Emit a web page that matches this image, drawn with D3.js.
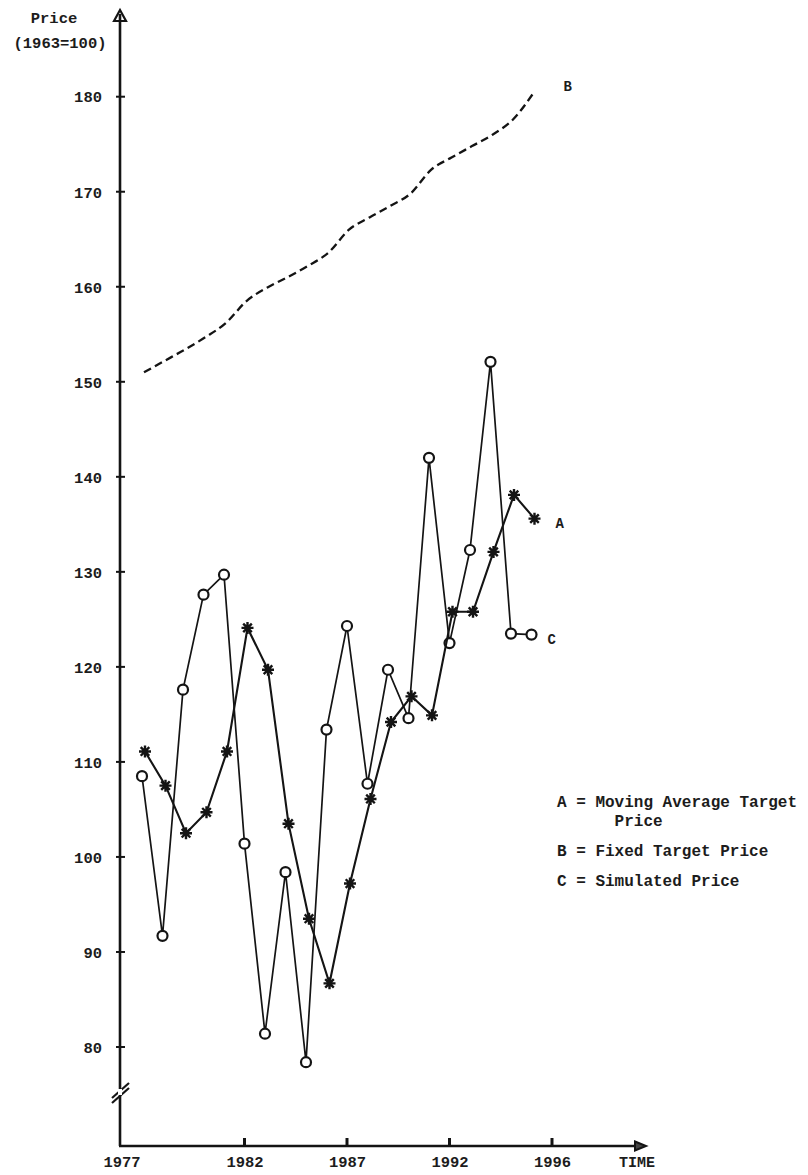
<!DOCTYPE html>
<html><head><meta charset="utf-8">
<script src="https://cdn.jsdelivr.net/npm/d3@7"></script>
<style>
body{margin:0;background:#fff}
svg text{font-family:"Liberation Mono","DejaVu Sans Mono",monospace;font-weight:bold;fill:#1c1c1c;white-space:pre}
</style>
</head><body>
<svg id="chart" width="808" height="1175"></svg>
<script>
// ---- data ----
const years = [1977,1978,1979,1980,1981,1982,1983,1984,1985,1986,1987,1988,1989,1990,1991,1992,1993,1994,1995,1996];
const simulatedC = [108.5,91.7,117.6,127.6,129.7,101.4,81.4,98.4,78.4,113.4,124.3,107.7,119.7,114.6,142.0,122.5,132.3,152.1,123.5,123.4];
const movingAvgA = [111.1,107.5,102.5,104.7,111.1,124.1,119.7,103.5,93.5,86.7,97.2,106.1,114.2,116.9,114.9,125.8,125.8,132.1,138.1,135.6];
const fixedB = [151.0,152.2,153.4,154.7,156.2,158.5,159.9,161.0,162.2,163.6,166.0,167.3,168.5,169.8,172.3,173.6,174.8,176.0,177.6,180.4];
const yTicks = [80,90,100,110,120,130,140,150,160,170,180];
const xTickYears = [1976,1982,1987,1992,1997];
const xTickLabels = ["1977","1982","1987","1992","1996"];
const legendLines = ["A = Moving Average Target","      Price","B = Fixed Target Price","C = Simulated Price"];
const yTitle = ["Price","(1963=100)"];
const xTitle = "TIME";

// ---- layout ----
const axisX = 120, axisBottomY = 1146, axisTopY = 10, xAxisEnd = 646;
const ink = "#141414";

const svg = d3.select("#chart");
const x = d3.scaleLinear().domain([1976,1997]).range([121.5,552]);
const y = d3.scaleLinear().domain([80,180]).range([1047,96.7]);

// axes lines
svg.append("line").attr("x1",axisX).attr("x2",axisX).attr("y1",axisTopY+4).attr("y2",axisBottomY)
  .attr("stroke",ink).attr("stroke-width",2.6);
svg.append("line").attr("x1",axisX-1).attr("x2",xAxisEnd-8).attr("y1",axisBottomY).attr("y2",axisBottomY)
  .attr("stroke",ink).attr("stroke-width",2.6);
// arrow heads
svg.append("path").attr("d",`M${axisX-6},${axisTopY+11}L${axisX},${axisTopY}L${axisX+6},${axisTopY+11}Z`)
  .attr("fill","none").attr("stroke",ink).attr("stroke-width",2.2);
svg.append("path").attr("d",`M${xAxisEnd-11},${axisBottomY-4.5}L${xAxisEnd},${axisBottomY}L${xAxisEnd-11},${axisBottomY+4.5}Z`)
  .attr("fill","#444").attr("stroke",ink).attr("stroke-width",2);
// axis break
[0,5].forEach(o=>{
  svg.append("line").attr("x1",axisX-8).attr("y1",1098+o).attr("x2",axisX+9).attr("y2",1083+o)
    .attr("stroke",ink).attr("stroke-width",2.2);
});
svg.append("rect").attr("x",axisX-2).attr("y",1089).attr("width",4).attr("height",6).attr("fill","#fff");

// y axis labels via d3 axis
const gy = svg.append("g").attr("transform",`translate(${axisX},0)`)
  .call(d3.axisLeft(y).tickValues(yTicks).tickSize(0).tickPadding(18));
gy.select(".domain").remove();
gy.selectAll("text").attr("font-size",15.5).attr("font-family",null).attr("dy","0.34em");
// cross ticks
svg.append("g").selectAll("line").data(yTicks).join("line")
  .attr("x1",axisX-4).attr("x2",axisX+5).attr("y1",d=>y(d)).attr("y2",d=>y(d))
  .attr("stroke",ink).attr("stroke-width",2);

// x axis labels via d3 axis
const gx = svg.append("g").attr("transform",`translate(0,${axisBottomY})`)
  .call(d3.axisBottom(x).tickValues(xTickYears).tickFormat((d,i)=>xTickLabels[i]).tickSize(0).tickPadding(10));
gx.select(".domain").remove();
gx.selectAll("text").attr("font-size",15.5).attr("font-family",null);
svg.append("g").selectAll("line").data(xTickYears.slice(1)).join("line")
  .attr("x1",d=>x(d)).attr("x2",d=>x(d)).attr("y1",axisBottomY-8).attr("y2",axisBottomY)
  .attr("stroke",ink).attr("stroke-width",3);
svg.append("text").attr("x",637).attr("y",axisBottomY+21).attr("text-anchor","middle")
  .attr("font-size",15).text(xTitle);

// y title
svg.append("text").attr("x",54).attr("y",23).attr("text-anchor","middle").attr("font-size",15.5).text(yTitle[0]);
svg.append("text").attr("x",60).attr("y",48).attr("text-anchor","middle").attr("font-size",15.5).text(yTitle[1]);

// ---- series ----
const line = d3.line().x(d=>x(d.year)).y(d=>y(d.v));
const toPts = arr => years.map((yr,i)=>({year:yr,v:arr[i]}));
const ptsB = toPts(fixedB), ptsA = toPts(movingAvgA), ptsC = toPts(simulatedC);

// B dashed (drawn a little to the right, as typed in the reference)
svg.append("path").datum(ptsB).attr("d",line.curve(d3.curveMonotoneX)).attr("transform","translate(2,0)")
  .attr("fill","none").attr("stroke",ink).attr("stroke-width",2.3).attr("stroke-dasharray","8,4.5");
line.curve(d3.curveLinear);

// C simulated price (circles)
svg.append("path").datum(ptsC).attr("d",line)
  .attr("fill","none").attr("stroke",ink).attr("stroke-width",1.7);
svg.append("g").selectAll("circle").data(ptsC).join("circle")
  .attr("cx",d=>x(d.year)).attr("cy",d=>y(d.v)).attr("r",5)
  .attr("fill","#fff").attr("stroke",ink).attr("stroke-width",2.2);

// A moving average (asterisks), typed slightly right of the circles
const gA = svg.append("g").attr("transform","translate(3,0)");
gA.append("path").datum(ptsA).attr("d",line)
  .attr("fill","none").attr("stroke",ink).attr("stroke-width",2.1);
const star = "M-6,0L6,0M0,-6L0,6M-4.3,-4.3L4.3,4.3M-4.3,4.3L4.3,-4.3";
gA.append("g").selectAll("path").data(ptsA).join("path")
  .attr("transform",d=>`translate(${x(d.year)},${y(d.v)})`).attr("d",star)
  .attr("stroke",ink).attr("stroke-width",2.4).attr("fill","none");

// end labels
const lastYear = years[years.length-1];
svg.append("text").attr("x",x(lastYear)+24).attr("y",y(movingAvgA[movingAvgA.length-1])+9).attr("font-size",14).text("A");
svg.append("text").attr("x",x(lastYear)+16).attr("y",y(simulatedC[simulatedC.length-1])+9).attr("font-size",14).text("C");
svg.append("text").attr("x",x(lastYear)+32).attr("y",y(fixedB[fixedB.length-1])-2).attr("font-size",14).text("B");

// legend
const legendY = [807,826,856,886];
svg.append("g").selectAll("text").data(legendLines).join("text")
  .attr("x",557).attr("y",(d,i)=>legendY[i]).attr("font-size",16).text(d=>d);
</script>
</body></html>
